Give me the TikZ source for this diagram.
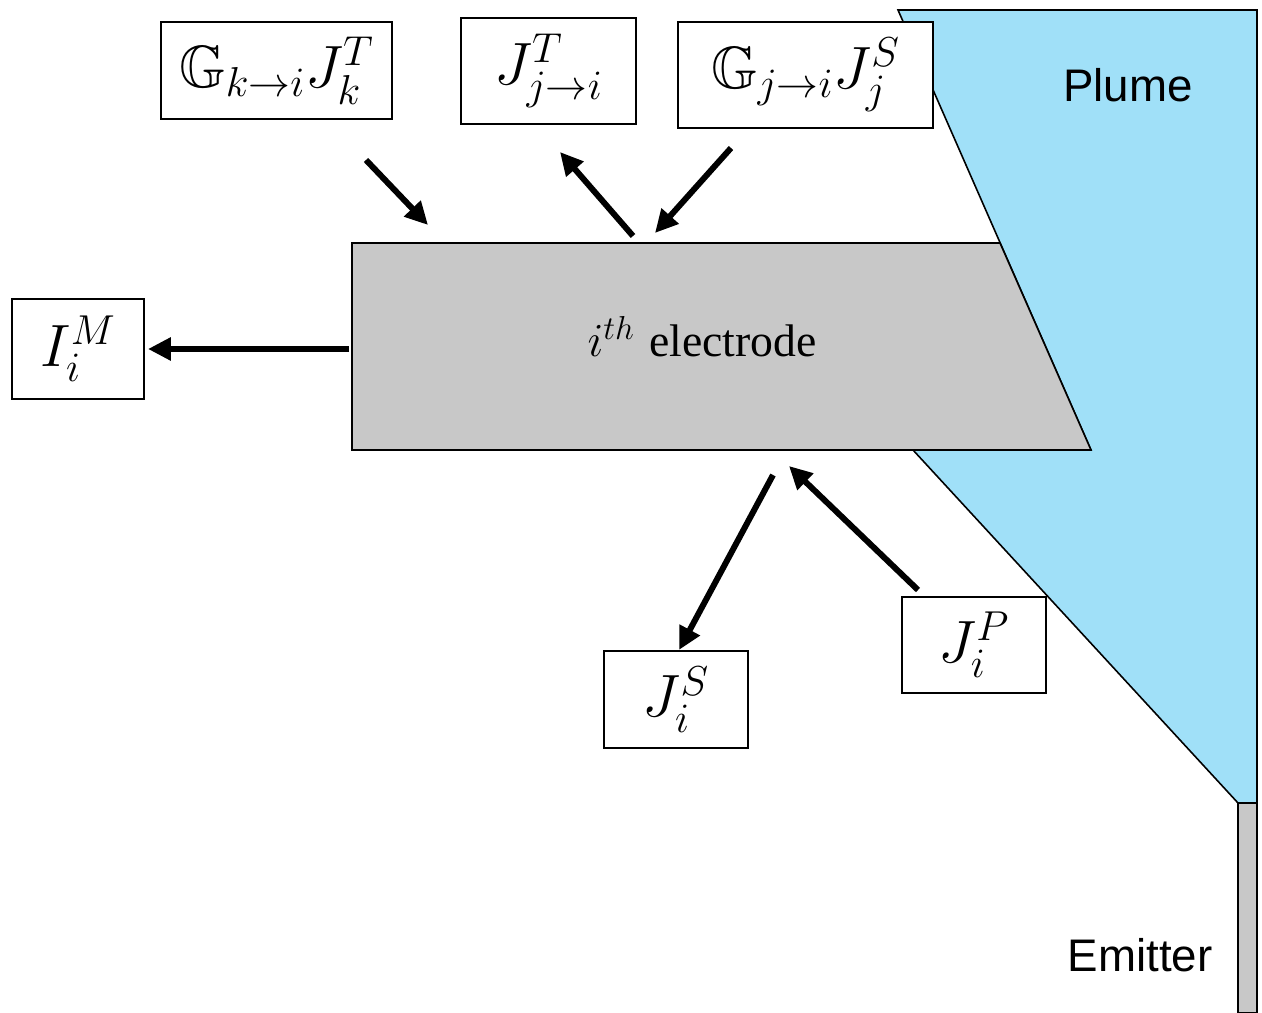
\RequirePackage{fix-cm}
\documentclass[tikz,border=0pt]{standalone}
\usepackage{amssymb}
\DeclareFontFamily{U}{msb}{}
\DeclareFontShape{U}{msb}{m}{n}{<-> msbm10}{}
\usepackage{fontspec}
\usetikzlibrary{arrows.meta}
\newfontfamily\arialfont{Liberation Sans}
\newfontfamily\timesfont{Liberation Serif}
\definecolor{plumeblue}{RGB}{160,224,248}
\definecolor{electgray}{RGB}{200,200,200}
\def\pxu{0.02cm}
\tikzset{
  flux/.style={draw=black, fill=white, line width=1.1pt, inner sep=0pt,
    font=\fontsize{34}{40}\selectfont},
  fluxarrow/.style={line width=3.4pt, -{Triangle[length=13pt,width=12.5pt]}},
  outline/.style={draw=black, line width=0.9pt},
  sanslabel/.style={font=\arialfont\fontsize{26}{30}\selectfont, inner sep=0pt}
}
\begin{document}
\begin{tikzpicture}[x=0.02cm, y=-0.02cm]
\useasboundingbox (0,0) rectangle (1262,1013);
% plume
\path[outline, fill=plumeblue] (898,10) -- (1257,10) -- (1257,803) -- (1238,803) -- (913,450) -- (1091,450) -- cycle;
% emitter
\path[outline, fill=electgray] (1238,803) rectangle (1257,1013);
% electrode
\path[outline, fill=electgray] (352,243) -- (1000,243) -- (1091,450) -- (352,450) -- cycle;
\node[inner sep=0pt] (elabel) at (702,337) {\fontsize{27}{32}\selectfont$i^{th}$ \timesfont\fontsize{26}{30}\selectfont electrode};
% labels
\node[sanslabel] (plume) at (1128,85) {Plume};
\node[sanslabel] (emitter) at (1140,955) {Emitter};
% boxes
\node[flux, minimum width=231*\pxu, minimum height=97*\pxu] (kbox) at (276.5,70.5) {$\mathbb{G}_{k\to i}J_k^T$};
\node[flux, minimum width=175*\pxu, minimum height=106*\pxu] (jTbox) at (548.5,71) {$J_{j\to i}^T$};
\node[flux, minimum width=255*\pxu, minimum height=106*\pxu] (jSbox) at (805.5,75) {$\mathbb{G}_{j\to i}J_j^S$};
\node[flux, minimum width=132*\pxu, minimum height=100*\pxu] (Mbox) at (78,349) {$I_i^M$};
\node[flux, minimum width=144*\pxu, minimum height=97*\pxu] (Sbox) at (676,699.5) {$J_i^S$};
\node[flux, minimum width=144*\pxu, minimum height=96*\pxu] (Pbox) at (974,645) {$J_i^P$};
% arrow end points
\coordinate (a1s) at (366,160); \coordinate (a1e) at (428,225);
\coordinate (a2s) at (633,236); \coordinate (a2e) at (560,152);
\coordinate (a3s) at (731,148); \coordinate (a3e) at (655,233);
\coordinate (a4s) at (349,349); \coordinate (a4e) at (148,349);
\coordinate (a5s) at (773,475); \coordinate (a5e) at (679,650);
\coordinate (a6s) at (918,590); \coordinate (a6e) at (789,466);
\draw[fluxarrow] (a1s) -- (a1e);
\draw[fluxarrow] (a2s) -- (a2e);
\draw[fluxarrow] (a3s) -- (a3e);
\draw[fluxarrow] (a4s) -- (a4e);
\draw[fluxarrow] (a5s) -- (a5e);
\draw[fluxarrow] (a6s) -- (a6e);
\end{tikzpicture}
\end{document}
